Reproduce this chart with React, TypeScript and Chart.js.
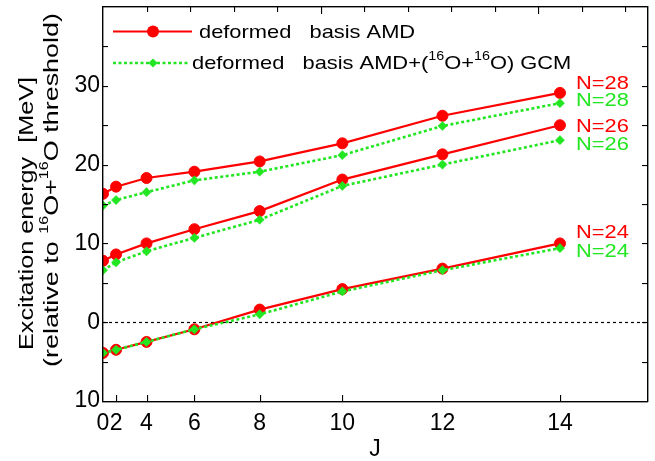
import React, { useEffect, useRef } from 'react';
import { Chart, registerables } from 'chart.js';

Chart.register(...registerables);

// ---- data ----
const J_VALUES = [0, 2, 4, 6, 8, 10, 12, 14];
const AMD_N28 = [16.3, 17.2, 18.3, 19.1, 20.4, 22.7, 26.2, 29.1];
const GCM_N28 = [14.8, 15.5, 16.5, 18.0, 19.1, 21.2, 24.9, 27.8];
const AMD_N26 = [7.8, 8.6, 10.0, 11.8, 14.1, 18.1, 21.3, 25.0];
const GCM_N26 = [6.6, 7.6, 9.0, 10.7, 13.0, 17.3, 20.0, 23.1];
const AMD_N24 = [-3.9, -3.5, -2.5, -0.9, 1.6, 4.2, 6.8, 10.0];
const GCM_N24 = [-3.9, -3.5, -2.5, -0.9, 1.0, 3.9, 6.6, 9.4];

const Y_TICK_VALUES = [-10, 0, 10, 20, 30];
const Y_TICK_LABELS = ['10', '0', '10', '20', '30'];
const X_TICK_LABELS = J_VALUES.map((j) => String(j));

const SERIES_LABELS = ['deformed   basis AMD', 'deformed   basis AMD+(16O+16O) GCM'];
const N_LABEL_TEXT = ['N=28', 'N=28', 'N=26', 'N=26', 'N=24', 'N=24'];
const N_LABEL_Y = [30.5, 28.3, 25.0, 22.7, 11.5, 9.1];

const RED = '#ff0000';
const GREEN = '#22e622';
const FONT = "'Liberation Sans', Arial, Helvetica, sans-serif";

const jj = (j: number) => j * (j + 1);
const X_TICK_VALUES = J_VALUES.map(jj);

type Part = { t: string; sup?: boolean };

function drawParts(ctx: CanvasRenderingContext2D, parts: Part[], size: number, supSize: number, supRise: number) {
  let cx = 0;
  for (const p of parts) {
    ctx.font = `${p.sup ? supSize : size}px ${FONT}`;
    ctx.fillText(p.t, cx, p.sup ? -supRise : 0);
    cx += ctx.measureText(p.t).width;
  }
}
function partsWidth(ctx: CanvasRenderingContext2D, parts: Part[], size: number, supSize: number) {
  let w = 0;
  for (const p of parts) {
    ctx.font = `${p.sup ? supSize : size}px ${FONT}`;
    w += ctx.measureText(p.t).width;
  }
  return w;
}

function drawFrameAndTicks(chart: any) {
  const { ctx, chartArea: a, scales } = chart;
  const xs = scales.x;
  const ys = scales.y;
  const L = Math.round(a.left);
  const R = Math.round(a.right);
  const T = Math.round(a.top);
  const B = Math.round(a.bottom);
  ctx.save();
  ctx.fillStyle = '#000';
  // frame (filled thin rectangles)
  ctx.fillRect(L - 1, T - 1, R - L + 2, 1.4);
  ctx.fillRect(L - 1, B, R - L + 2, 1.4);
  ctx.fillRect(L - 1, T - 1, 1.4, B - T + 2);
  ctx.fillRect(R, T - 1, 1.4, B - T + 2);
  // left / right ticks
  for (let v = -5; v < 40; v += 5) {
    const py = Math.round(ys.getPixelForValue(v));
    ctx.fillRect(L, py, 5, 1.1);
    ctx.fillRect(R - 5, py, 5, 1.1);
  }
  // bottom ticks
  for (const v of X_TICK_VALUES) {
    if (v === 0) continue;
    const px = Math.round(xs.getPixelForValue(v));
    ctx.fillRect(px, B - 6, 1.1, 6);
  }
  // top ticks
  for (let v = 20; v < 250; v += 20) {
    const px = Math.round(xs.getPixelForValue(v));
    ctx.fillRect(px, T, 1.1, v % 100 === 0 ? 7 : 5);
  }
  ctx.restore();
}

const decorPlugin = {
  id: 'decor',
  beforeDatasetsDraw(chart: any) {
    const { ctx, chartArea: a, scales } = chart;
    const y0 = Math.round(scales.y.getPixelForValue(0)) + 0.5;
    ctx.save();
    ctx.strokeStyle = '#000';
    ctx.lineWidth = 1.2;
    ctx.setLineDash([3, 3]);
    ctx.beginPath();
    ctx.moveTo(a.left, y0);
    ctx.lineTo(a.right, y0);
    ctx.stroke();
    ctx.restore();
  },
  afterDatasetsDraw(chart: any) {
    drawFrameAndTicks(chart);
  },
  afterDraw(chart: any) {
    const { ctx, scales } = chart;
    const xs = scales.x;
    const ys = scales.y;
    ctx.save();
    const SX = 1.15;
    const FS = 19;
    // legend
    const legendRows = [
      { y: 31.5, color: RED, dash: [] as number[], width: 2.2, marker: 'circle', textX: 199, base: 37.5,
        parts: [{ t: 'deformed   basis AMD' }] as Part[] },
      { y: 63, color: GREEN, dash: [3, 2.5], width: 2.6, marker: 'diamond', textX: 192, base: 69.3,
        parts: [{ t: 'deformed   basis AMD+(' }, { t: '16', sup: true }, { t: 'O+' }, { t: '16', sup: true }, { t: 'O) GCM' }] as Part[] },
    ];
    for (const r of legendRows) {
      ctx.save();
      ctx.strokeStyle = r.color;
      ctx.lineWidth = r.width;
      ctx.setLineDash(r.dash);
      ctx.beginPath();
      ctx.moveTo(113, r.y);
      ctx.lineTo(r.marker === 'circle' ? 192 : 188, r.y);
      ctx.stroke();
      ctx.setLineDash([]);
      ctx.fillStyle = r.color;
      ctx.beginPath();
      if (r.marker === 'circle') {
        ctx.arc(153, r.y, 6, 0, Math.PI * 2);
      } else {
        ctx.moveTo(153, r.y - 4.6);
        ctx.lineTo(157.6, r.y);
        ctx.lineTo(153, r.y + 4.6);
        ctx.lineTo(148.4, r.y);
        ctx.closePath();
      }
      ctx.fill();
      ctx.fillStyle = '#000';
      ctx.textBaseline = 'alphabetic';
      ctx.textAlign = 'left';
      ctx.translate(r.textX, r.base);
      ctx.scale(SX, 1);
      drawParts(ctx, r.parts, FS, 12.5, 9);
      ctx.restore();
    }

    // N labels
    const lx = xs.getPixelForValue(jj(J_VALUES[J_VALUES.length - 1])) + 16;
    N_LABEL_TEXT.forEach((t, i) => {
      ctx.save();
      ctx.fillStyle = i % 2 === 0 ? RED : GREEN;
      ctx.textBaseline = 'alphabetic';
      ctx.textAlign = 'left';
      ctx.translate(lx, ys.getPixelForValue(N_LABEL_Y[i]) + 6.8);
      ctx.scale(SX, 1);
      ctx.font = `${FS}px ${FONT}`;
      ctx.fillText(t, 0, 0);
      ctx.restore();
    });

    // y title (two rotated lines)
    const titleLines = [
      { baseX: 32.5, startY: 350, length: 273, parts: [{ t: 'Excitation energy  [MeV]' }] as Part[] },
      { baseX: 57.5, startY: 367, length: 354,
        parts: [{ t: '(relative to ' }, { t: '16', sup: true }, { t: 'O+' }, { t: '16', sup: true }, { t: 'O threshold)' }] as Part[] },
    ];
    for (const l of titleLines) {
      ctx.save();
      ctx.fillStyle = '#000';
      ctx.textBaseline = 'alphabetic';
      ctx.textAlign = 'left';
      const w = partsWidth(ctx, l.parts, 20, 12);
      ctx.translate(l.baseX, l.startY);
      ctx.rotate(-Math.PI / 2);
      ctx.scale(l.length / w, 1);
      drawParts(ctx, l.parts, 20, 12, 9.5);
      ctx.restore();
    }
    ctx.restore();
  },
};

function makeData(values: number[]) {
  return J_VALUES.map((j, i) => ({ x: jj(j), y: values[i] }));
}

export default function App() {
  const ref = useRef<HTMLCanvasElement | null>(null);
  useEffect(() => {
    if (!ref.current) return;
    const amd = (label: string, vals: number[]) => ({
      label,
      data: makeData(vals),
      borderColor: RED,
      backgroundColor: RED,
      borderWidth: 2.2,
      pointStyle: 'circle',
      pointRadius: 5.5,
      pointBorderWidth: 1,
      pointBackgroundColor: RED,
      pointBorderColor: RED,
      order: 2,
    });
    const gcm = (label: string, vals: number[]) => ({
      label,
      data: makeData(vals),
      borderColor: GREEN,
      backgroundColor: GREEN,
      borderWidth: 2.6,
      borderDash: [3, 2.5],
      pointStyle: 'rectRot',
      pointRadius: 4.6,
      pointBorderWidth: 0.5,
      pointBackgroundColor: GREEN,
      pointBorderColor: GREEN,
      order: 1,
    });
    const chart = new Chart(ref.current, {
      type: 'line',
      data: {
        datasets: [
          amd(SERIES_LABELS[0] + ' N=28', AMD_N28),
          gcm(SERIES_LABELS[1] + ' N=28', GCM_N28),
          amd(SERIES_LABELS[0] + ' N=26', AMD_N26),
          gcm(SERIES_LABELS[1] + ' N=26', GCM_N26),
          amd(SERIES_LABELS[0] + ' N=24', AMD_N24),
          gcm(SERIES_LABELS[1] + ' N=24', GCM_N24),
        ] as any,
      },
      options: {
        responsive: false,
        animation: false,
        events: [],
        layout: { padding: { top: 7, right: 8, left: 0, bottom: 0 } },
        plugins: { legend: { display: false }, tooltip: { enabled: false }, title: { display: false } },
        scales: {
          x: {
            type: 'linear',
            min: 0,
            max: 250,
            grid: { display: false, drawTicks: false },
            border: { display: false },
            afterBuildTicks: (s: any) => {
              s.ticks = X_TICK_VALUES.map((v) => ({ value: v }));
            },
            afterFit: (s: any) => {
              s.height = 60;
              s.paddingLeft = 0;
              s.paddingRight = 0;
            },
            ticks: {
              autoSkip: false,
              maxRotation: 0,
              padding: 9,
              color: '#000',
              font: { size: 23, family: FONT },
              callback: (v: any) => {
                const i = X_TICK_VALUES.indexOf(Number(v));
                return i >= 0 ? X_TICK_LABELS[i] : '';
              },
            },
            title: { display: true, text: 'J', color: '#000', font: { size: 23, family: FONT, lineHeight: 1.0 }, padding: 0 },
          },
          y: {
            type: 'linear',
            min: -10,
            max: 40,
            grid: { display: false, drawTicks: false },
            border: { display: false },
            afterBuildTicks: (s: any) => {
              s.ticks = Y_TICK_VALUES.map((v) => ({ value: v }));
            },
            afterFit: (s: any) => {
              s.width = 103;
              s.paddingTop = 0;
              s.paddingBottom = 0;
            },
            ticks: {
              autoSkip: false,
              padding: 3,
              color: '#000',
              font: { size: 23, family: FONT },
              callback: (v: any) => {
                const i = Y_TICK_VALUES.indexOf(Number(v));
                return i >= 0 ? Y_TICK_LABELS[i] : '';
              },
            },
          },
        },
      },
      plugins: [decorPlugin],
    } as any);
    return () => chart.destroy();
  }, []);
  return (
    <div style={{ position: 'absolute', left: 0, top: 0, width: 655, height: 461, background: '#fff' }}>
      <canvas ref={ref} width={655} height={461} style={{ width: 655, height: 461, display: 'block' }} />
    </div>
  );
}
